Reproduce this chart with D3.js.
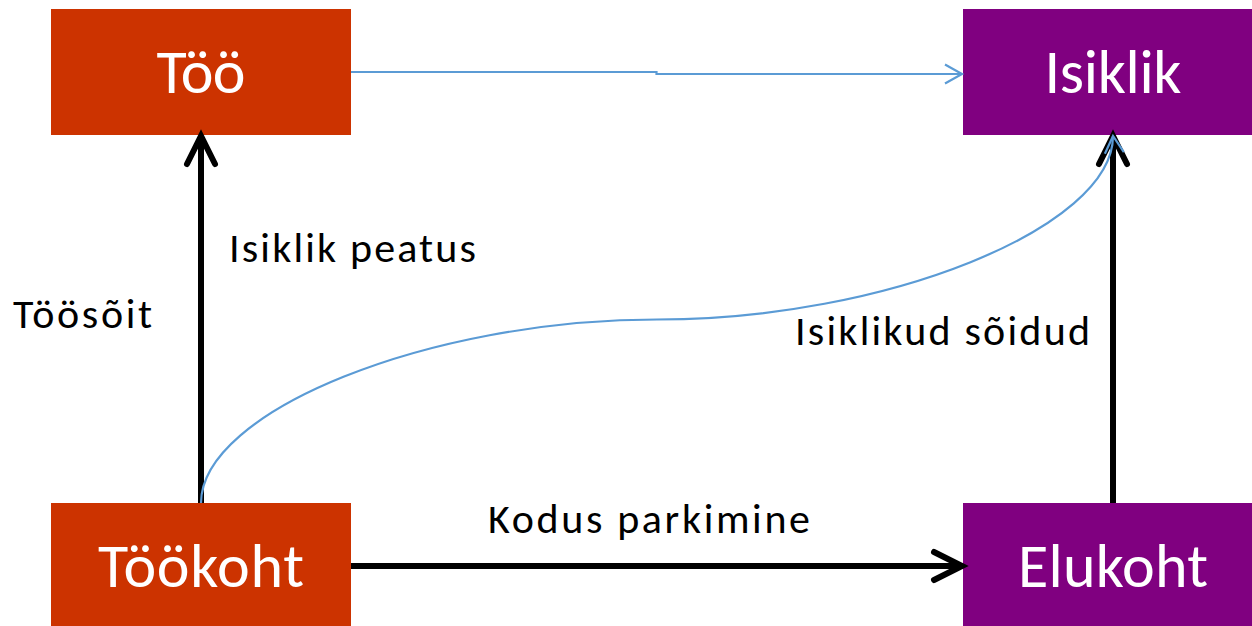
<!DOCTYPE html>
<html>
<head>
<meta charset="utf-8">
<script src="https://cdn.jsdelivr.net/npm/d3@7"></script>
<style>
  html, body { margin: 0; padding: 0; background: #fff; overflow: hidden; }
  svg { display: block; }
</style>
</head>
<body>
<svg id="svg_1" width="1252" height="626"></svg>
<script>
// nodes of the diagram
var nodeNames = ["Töö", "Isiklik", "Töökoht", "Elukoht"];
var nodeCols = ["vasak", "parem", "vasak", "parem"];
var nodeRows = ["üla", "üla", "ala", "ala"];
var nodeColors = ["#CC3300", "#800080", "#CC3300", "#800080"];

// edges between nodes (index into nodeNames)
var edgeFrom = [2, 2, 3];
var edgeTo = [0, 3, 1];
var edgeLabels = ["Töösõit", "Kodus parkimine", "Isiklikud sõidud"];

// blue links
var linkFrom = [0, 2];
var linkTo = [1, 1];
var linkLabels = ["", "Isiklik peatus"];

var svg = d3.select("svg#svg_1"),
    boxW = 300,
    boxH = 126,
    font = "Carlito, Calibri, Lato, sans-serif";

// text widths seen in the picture
var boxTextW = {"Töö": 89, "Isiklik": 137, "Töökoht": 206, "Elukoht": 190};

var x = d3.scalePoint().domain(["vasak", "parem"]).range([201, 1113]);
var y = d3.scalePoint().domain(["üla", "ala"]).range([72, 566]);

var nodes = nodeNames.map(function(d, i) {
  return {name: d, cx: x(nodeCols[i]), cy: y(nodeRows[i]), color: nodeColors[i]};
});

// boxes
var g = svg.append("g");
g.selectAll("rect")
  .data(nodes)
  .enter().append("rect")
    .attr("x", function(d) { return d.cx - boxW / 2; })
    .attr("y", function(d) { return d.cy - boxH / 2; })
    .attr("width", boxW)
    .attr("height", boxH)
    .attr("fill", function(d) { return d.color; });

g.selectAll("text")
  .data(nodes)
  .enter().append("text")
    .attr("x", function(d) { return d.cx - boxTextW[d.name] / 2; })
    .attr("y", function(d) { return d.cy + 21; })
    .attr("font-family", font)
    .attr("font-size", 62)
    .attr("fill", "#fff")
    .attr("textLength", function(d) { return boxTextW[d.name]; })
    .attr("lengthAdjust", "spacing")
    .text(function(d) { return d.name; });

// chevron arrowhead at tip, pointing along angle a
function chevron(tx, ty, a, back, spread) {
  var c = Math.cos(a), s = Math.sin(a);
  var bx = tx - back * c, by = ty - back * s;
  return "M" + (bx - spread * s) + "," + (by + spread * c) +
         "L" + tx + "," + ty +
         "L" + (bx + spread * s) + "," + (by - spread * c);
}

// black arrows
var black = svg.append("g").attr("fill", "none").attr("stroke", "#000");
edgeFrom.forEach(function(f, i) {
  var a = nodes[f], b = nodes[edgeTo[i]], x1, y1, x2, y2;
  if (a.cx === b.cx) {
    x1 = x2 = a.cx;
    y1 = a.cy - boxH / 2;
    y2 = b.cy + boxH / 2 + 1;
  } else {
    y1 = y2 = a.cy;
    x1 = a.cx + boxW / 2;
    x2 = b.cx - boxW / 2 - 1;
  }
  black.append("line")
    .attr("x1", x1).attr("y1", y1).attr("x2", x2 - (y1 === y2 ? 4 : 0)).attr("y2", y2 + (y1 === y2 ? 0 : 4))
    .attr("stroke-width", 6);
  black.append("path")
    .attr("d", chevron(x2, y2, Math.atan2(y2 - y1, x2 - x1), 28, 14))
    .attr("stroke-width", 6)
    .attr("stroke-linecap", "round")
    .attr("stroke-linejoin", "miter");
});

// blue links
var blue = svg.append("g").attr("fill", "none").attr("stroke", "#5B9BD5").attr("stroke-width", 2.2);

// Töö -> Isiklik, nearly straight elbow
var a0 = nodes[linkFrom[0]], b0 = nodes[linkTo[0]];
var sx = a0.cx + boxW / 2, ex = b0.cx - boxW / 2 - 1, mx = (sx + ex) / 2;
blue.append("path")
  .attr("d", "M" + sx + "," + a0.cy + "H" + mx + "V" + (b0.cy + 2) + "H" + ex);
blue.append("path")
  .attr("d", chevron(ex, b0.cy + 2, 0, 17, 9.5));

// Töökoht -> Isiklik, curved connector
var a1 = nodes[linkFrom[1]], b1 = nodes[linkTo[1]];
var p0 = [a1.cx, a1.cy - boxH / 2], p3 = [b1.cx, b1.cy + boxH / 2 + 1];
var my = (p0[1] + p3[1]) / 2, mxx = (p0[0] + p3[0]) / 2;
blue.append("path")
  .attr("d", "M" + p0 + "C" + [p0[0], (p0[1] + my) / 2] + " " + [(p0[0] + mxx) / 2, my] + " " + [mxx, my] +
             "C" + [(mxx + p3[0]) / 2, my] + " " + [p3[0], (my + p3[1]) / 2] + " " + p3);
blue.append("path")
  .attr("d", chevron(p3[0], p3[1], -Math.PI / 2 - 0.08, 17, 9.5));

// labels
var labels = svg.append("g")
    .attr("font-family", font)
    .attr("font-size", 42)
    .attr("fill", "#000");

function label(text, lx, ly, w) {
  labels.append("text")
    .attr("x", lx).attr("y", ly)
    .attr("textLength", w)
    .attr("lengthAdjust", "spacing")
    .text(text);
}

label(edgeLabels[0], x("vasak") - 188, 328, 139);
label(edgeLabels[1], (x("vasak") + x("parem")) / 2 - 169, 533, 322);
label(edgeLabels[2], x("parem") - 318, 345, 295);
label(linkLabels[1], x("vasak") + 28, 262, 247);
</script>
</body>
</html>
